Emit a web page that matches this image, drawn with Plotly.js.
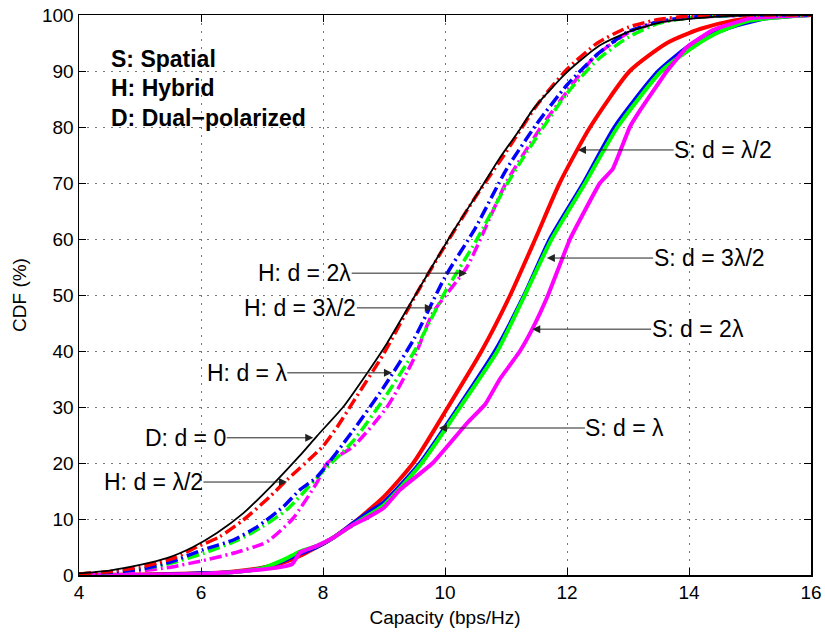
<!DOCTYPE html>
<html>
<head>
<meta charset="utf-8">
<script src="https://cdn.plot.ly/plotly-3.0.1.min.js"></script>
<style>html,body{margin:0;padding:0;background:#fff;}#chart{width:825px;height:633px;}</style>
</head>
<body>
<div id="chart"></div>
<script>
// D: dual-polarized, d = 0 (black)
const dX = [4, 4.5, 5, 5.44, 5.87, 6.26, 6.69, 7.18, 7.62, 7.9, 8.33, 8.72, 9.05, 9.38, 9.59, 9.8, 10.2, 10.57, 10.9, 11.23, 11.44, 12, 12.54, 13.08, 13.6, 14.2, 15, 16];
const dY = [0.3, 0.8, 1.8, 3.0, 5, 7.5, 11, 16.2, 21.3, 24.8, 30, 36, 41.4, 47.5, 51.4, 55.3, 62.5, 68.75, 74.5, 79.6, 83.1, 89.8, 94.6, 97.3, 98.8, 99.5, 100, 100];

// Hybrid (dash-dot)
const hRedX = [4, 4.5, 5, 5.3, 5.6, 5.93, 6.3, 6.69, 7.13, 7.41, 8, 8.23, 8.5, 9, 9.5, 10, 10.5, 11, 11.5, 12, 12.5, 13, 13.5, 14, 15, 16];
const hRedY = [0.2, 0.6, 1.4, 2.2, 3.2, 5, 6.8, 9.8, 14, 17, 23, 26.4, 31, 39.6, 49.6, 58.8, 67.5, 75.5, 83.8, 90.3, 95, 97.8, 99.2, 99.8, 100, 100];
const hBlueX = [4, 4.5, 5, 5.5, 6.03, 6.53, 6.92, 7.35, 7.62, 7.9, 8.5, 9, 9.5, 10, 10.5, 11, 11.5, 12, 12.5, 13, 13.5, 14, 15, 16];
const hBlueY = [0.2, 0.5, 1.0, 2.3, 4.5, 6.25, 8.6, 12.2, 15.2, 17.5, 25.9, 33.6, 42.3, 53.2, 62, 72.3, 80.5, 87.5, 93, 97, 98.8, 99.6, 100, 100];
const hGreenX = [4, 4.5, 5, 5.5, 6.05, 6.6, 7.0, 7.4, 8, 8.5, 9, 9.5, 10, 10.5, 11, 11.34, 12, 12.5, 13, 13.5, 14, 15, 16];
const hGreenY = [0.2, 0.5, 1.0, 2.1, 3.9, 6.2, 8.6, 11.6, 18.5, 24, 31.5, 40, 50.5, 59.5, 69.5, 75.5, 86, 92, 96, 98.5, 99.5, 100, 100];
const hMagX = [4, 4.5, 5, 5.5, 6, 6.5, 7, 7.13, 7.5, 7.9, 8.07, 8.49, 9.05, 9.48, 9.8, 10.36, 11, 11.6, 12, 12.43, 13, 13.5, 14, 15, 16];
const hMagY = [0.1, 0.3, 0.7, 1.4, 2.5, 3.8, 5.5, 6.3, 10, 16.5, 20, 22.9, 30, 38.4, 46.8, 55, 70, 80.4, 86.3, 92.3, 96.8, 98.7, 99.5, 100, 100];

// Spatial (thick solid)
const sRedX = [4, 5, 6, 6.5, 7, 7.35, 7.62, 7.9, 8.16, 8.5, 8.72, 9, 9.48, 10.05, 10.6, 11.07, 11.48, 11.88, 12.38, 13.03, 13.64, 14.18, 14.72, 15.3, 16];
const sRedY = [0, 0.1, 0.3, 0.6, 1.3, 2.2, 3.4, 5, 6.6, 9.3, 11.3, 14, 20, 30, 40, 50, 60, 70, 80, 90, 95, 97.5, 99, 99.7, 100];
const sBlueX = [4, 5, 5.5, 6, 6.5, 7, 7.35, 7.62, 7.9, 8.16, 8.5, 8.72, 9, 9.59, 10.22, 10.82, 11.3, 11.72, 12.27, 12.78, 13.5, 14.07, 14.6, 15.2, 16];
const sBlueY = [0, 0, 0.1, 0.3, 0.5, 1.2, 2.5, 3.8, 5, 6.6, 9.3, 11, 13, 20, 30, 40, 50, 60, 70, 80, 90, 95, 97.5, 99.3, 100];
const sGreenX = [4, 5, 5.5, 6, 6.5, 7, 7.35, 7.62, 7.9, 8.16, 8.5, 8.72, 9, 9.62, 10.25, 10.86, 11.31, 11.75, 12.3, 12.83, 13.55, 14.1, 14.5, 15, 16];
const sGreenY = [0, 0, 0, 0.2, 0.5, 1.2, 2.7, 4.2, 5.2, 6.6, 9, 10.5, 12.5, 20, 30, 40, 50, 60, 70, 80, 90, 94.5, 97, 99, 100];
const sMagX = [4, 5, 6, 6.5, 7, 7.35, 7.5, 7.62, 7.9, 8.16, 8.5, 8.72, 9, 9.26, 9.8, 10.36, 10.66, 10.9, 11.23, 11.43, 11.69, 12.05, 12.54, 12.75, 13.03, 13.2, 13.64, 13.97, 14.39, 15, 16];
const sMagY = [0, 0, 0.2, 0.5, 1, 1.5, 2, 4, 5.2, 6.6, 9, 10.2, 12, 15.2, 20, 27.1, 30.5, 35, 40, 43.9, 50, 60, 70, 72.5, 80, 83, 90, 94.3, 97.3, 99.4, 100];

// Annotation labels: text, tip x, tip y, text centre x
const labelTexts = ['S: d = λ/2', 'S: d = 3λ/2', 'S: d = 2λ', 'S: d = λ', 'H: d = 2λ', 'H: d = 3λ/2', 'H: d = λ', 'D: d = 0', 'H: d = λ/2'];
const labelTipX = [12.18, 11.67, 11.43, 9.9, 10.36, 9.8, 9.13, 7.84, 7.41];
const labelTipY = [75.9, 56.6, 43.9, 26.25, 53.9, 47.7, 36.1, 24.5, 16.6];
const labelTextX = [14.56, 14.33, 14.14, 12.95, 7.70, 7.63, 6.75, 5.75, 5.22];

const keyTexts = ['S: Spatial', 'H: Hybrid', 'D: Dual\u2212polarized'];
const keyY = [92.2, 86.9, 81.6];

const xTicks = [4, 6, 8, 10, 12, 14, 16];
const yTicks = [0, 10, 20, 30, 40, 50, 60, 70, 80, 90, 100];

const dashDot = '12px,4px,2px,4px';
function tr(x, y, color, width, dash, smooth) {
  return {x: x, y: y, type: 'scatter', mode: 'lines',
    line: {color: color, width: width, dash: dash, shape: 'spline', smoothing: smooth},
    showlegend: false, hoverinfo: 'skip', cliponaxis: true};
}
const data = [
  tr(sRedX, sRedY, '#ff0000', 4, 'solid', 0.6),
  tr(sBlueX, sBlueY, '#0000ff', 4, 'solid', 0.6),
  tr(sGreenX, sGreenY, '#00ff00', 4, 'solid', 0.6),
  tr(sMagX, sMagY, '#ff00ff', 4, 'solid', 0.3),
  tr(hMagX, hMagY, '#ff00ff', 3.5, dashDot, 0.6),
  tr(hGreenX, hGreenY, '#00ff00', 3.5, dashDot, 0.6),
  tr(hBlueX, hBlueY, '#0000ff', 3.5, dashDot, 0.6),
  tr(hRedX, hRedY, '#ff0000', 3.5, dashDot, 0.6),
  tr(dX, dY, '#000000', 1.8, 'solid', 0.6)
];

const annotations = [];
for (let i = 0; i < labelTexts.length; i++) {
  annotations.push({
    x: labelTipX[i], y: labelTipY[i], xref: 'x', yref: 'y',
    ax: labelTextX[i], ay: labelTipY[i], axref: 'x', ayref: 'y',
    text: labelTexts[i], showarrow: true, arrowhead: 2, arrowsize: 1.6, arrowwidth: 1,
    arrowcolor: '#222', font: {family: 'Liberation Sans, Arial, sans-serif', size: 23, color: '#000'},
    borderpad: 0
  });
}
for (let i = 0; i < keyTexts.length; i++) {
  annotations.push({
    x: 4.49, y: keyY[i], xref: 'x', yref: 'y', xanchor: 'left', yanchor: 'middle',
    text: '<b>' + keyTexts[i] + '</b>', showarrow: false,
    font: {family: 'Liberation Sans, Arial, sans-serif', size: 23, color: '#000'}
  });
}

const axisCommon = {
  showline: true, linecolor: '#000', linewidth: 1.5, mirror: 'ticks',
  ticks: 'inside', ticklen: 7, tickcolor: '#000', tickwidth: 1,
  showgrid: true, gridcolor: '#777', gridwidth: 1, griddash: '2px,6px',
  zeroline: false, tickfont: {family: 'Liberation Sans, Arial, sans-serif', size: 19, color: '#000'}
};
const layout = {
  width: 825, height: 633,
  margin: {l: 79, r: 14, t: 15, b: 58},
  paper_bgcolor: '#fff', plot_bgcolor: '#fff',
  xaxis: Object.assign({}, axisCommon, {
    range: [4, 16], tickvals: xTicks, ticktext: xTicks.map(String),
    title: {text: 'Capacity (bps/Hz)', font: {family: 'Liberation Sans, Arial, sans-serif', size: 19, color: '#000'}, standoff: 8}
  }),
  yaxis: Object.assign({}, axisCommon, {
    range: [0, 100], tickvals: yTicks, ticktext: yTicks.map(String),
    title: {text: 'CDF (%)', font: {family: 'Liberation Sans, Arial, sans-serif', size: 19, color: '#000'}, standoff: 10}
  }),
  annotations: annotations
};
Plotly.newPlot('chart', data, layout, {displayModeBar: false, staticPlot: true});
</script>
</body>
</html>
